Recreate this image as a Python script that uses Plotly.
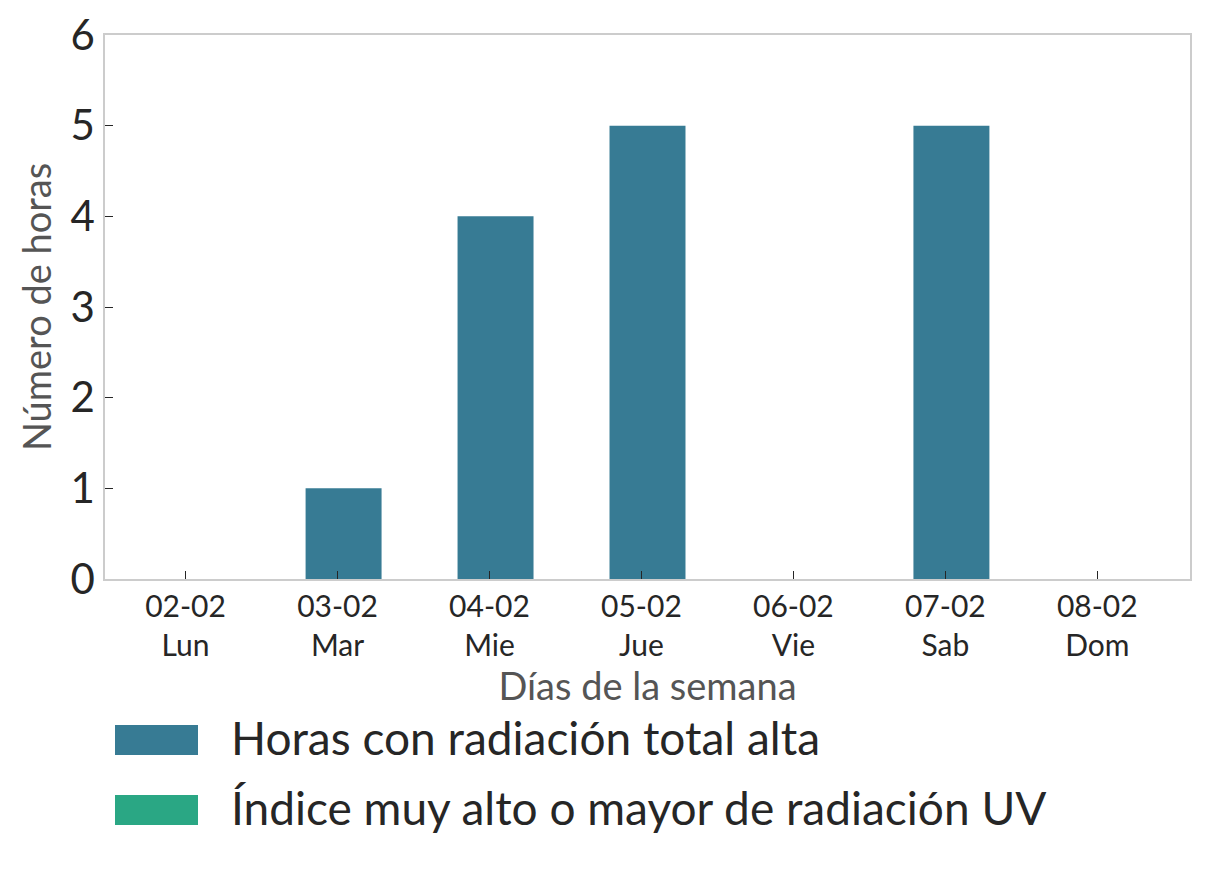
import plotly.graph_objects as go

fechas = ["02-02", "03-02", "04-02", "05-02", "06-02", "07-02", "08-02"]
dias = ["Lun", "Mar", "Mie", "Jue", "Vie", "Sab", "Dom"]
horas_radiacion = [0, 1, 4, 5, 0, 5, 0]
horas_uv = [0, 0, 0, 0, 0, 0, 0]
nombres = ["Horas con radiación total alta", "Índice muy alto o mayor de radiación UV"]
colores = ["#377b94", "#2aa784"]

x = list(range(len(fechas)))
ticktext = [f"{f}<br>{d}" for f, d in zip(fechas, dias)]

fig = go.Figure()
for vals, nom, col in zip([horas_radiacion, horas_uv], nombres, colores):
    fig.add_trace(go.Bar(x=x, y=vals, name=nom, marker=dict(color=col, line=dict(width=0)),
                         width=0.5, offset=-0.21, showlegend=False))

FONT = "Lato"
fig.update_layout(
    width=1201, height=863,
    margin=dict(l=97, r=19, t=27, b=292),
    plot_bgcolor="white", paper_bgcolor="white",
    barmode="overlay",
    font=dict(family=FONT, color="#262626"),
    xaxis=dict(
        range=[-0.53, 6.61], tickmode="array", tickvals=x, ticktext=ticktext,
        ticks="inside", ticklen=8, tickcolor="#262626", tickwidth=1,
        tickfont=dict(size=30, color="#262626"),
        showline=True, linecolor="#cccccc", linewidth=1.5, mirror=True,
        showgrid=False, zeroline=False, automargin=False,
        title=dict(text="Días de la semana", font=dict(size=38, color="#555555"), standoff=8),
    ),
    yaxis=dict(
        range=[0, 6], tickmode="array", tickvals=[0, 1, 2, 3, 4, 5, 6],
        ticks="inside", ticklen=8, tickcolor="#262626", tickwidth=1,
        tickfont=dict(size=42, color="#262626"),
        showline=True, linecolor="#cccccc", linewidth=1.5, mirror=True,
        showgrid=False, zeroline=False, automargin=False,
        title=dict(text="Número de horas", font=dict(size=38, color="#555555"), standoff=7),
    ),
)

# Custom legend below the plot (plot area spans screen x 105..1190, y 35..579)
sw_y = [740, 810]
txt_y = [737, 807]
for nom, col, yc, yt in zip(nombres, colores, sw_y, txt_y):
    fig.add_shape(type="rect", xref="paper", yref="paper",
                  x0=(115 - 105) / 1085, x1=(198 - 105) / 1085,
                  y0=(579 - (yc + 15)) / 544, y1=(579 - (yc - 15)) / 544,
                  fillcolor=col, line=dict(width=0))
    fig.add_annotation(xref="paper", yref="paper", x=(229 - 105) / 1085, y=(579 - yt) / 544,
                       text=nom, showarrow=False, xanchor="left", yanchor="middle",
                       font=dict(size=46, color="#262626", family=FONT))

fig.write_html("out.html")
